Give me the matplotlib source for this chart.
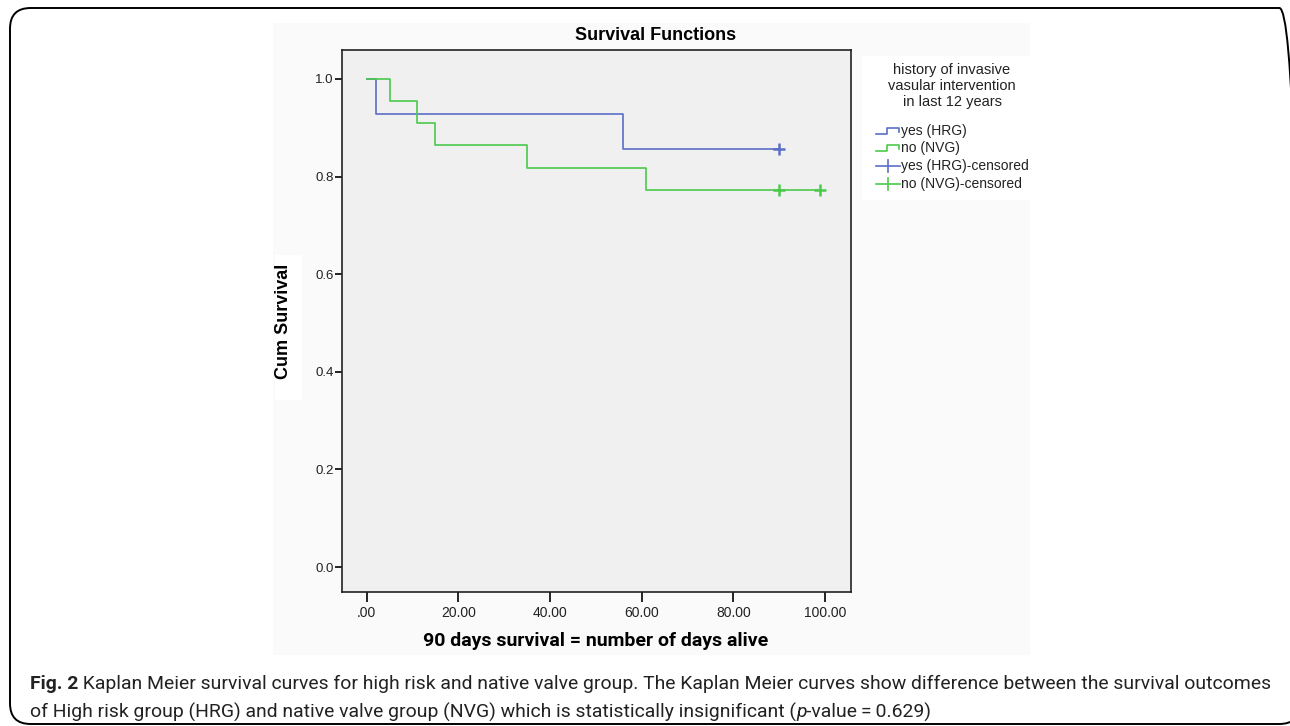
import matplotlib
matplotlib.use("Agg")
import matplotlib.pyplot as plt
from matplotlib.lines import Line2D
from matplotlib.patches import FancyBboxPatch, Rectangle

W, H = 1290, 726

# Kaplan-Meier steps
hrg_days = [0, 2, 56, 90]
hrg_surv = [1.0, 0.929, 0.857, 0.857]
hrg_cens_days = [90]
hrg_cens_surv = [0.857]

nvg_days = [0, 5, 11, 15, 35, 61, 99]
nvg_surv = [1.0, 0.955, 0.909, 0.864, 0.818, 0.773, 0.773]
nvg_cens_days = [90, 99]
nvg_cens_surv = [0.773, 0.773]

xticks = [0, 20, 40, 60, 80, 100]
xtick_labels = [".00", "20.00", "40.00", "60.00", "80.00", "100.00"]
yticks = [0.0, 0.2, 0.4, 0.6, 0.8, 1.0]
ytick_labels = ["0.0", "0.2", "0.4", "0.6", "0.8", "1.0"]

title = "Survival Functions"
xlabel = "90 days survival = number of days alive"
ylabel = "Cum Survival"
legend_title = ["history of invasive", "vasular intervention", "in last 12 years"]
legend_labels = ["yes (HRG)", "no (NVG)", "yes (HRG)-censored", "no (NVG)-censored"]

caption1 = [("Fig. 2", "bold", "normal"),
            (" Kaplan Meier survival curves for high risk and native valve group. The Kaplan Meier "
             "curves show difference between the survival outcomes", "normal", "normal")]
caption2 = [("of High risk group (HRG) and native valve group (NVG) which is statistically "
             "insignificant (", "normal", "normal"),
            ("p", "normal", "italic"),
            ("-value\u2009=\u20090.629)", "normal", "normal")]

blue = "#5a6fc6"
green = "#4cc94c"


def fx(x):
	return x / W


def fy(y):
	return 1 - y / H


fig = plt.figure(figsize=(W / 100, H / 100), dpi=100)
fig.patch.set_facecolor("white")

# page frame and the pasted chart image (kept behind the axes)
fig.add_artist(FancyBboxPatch((fx(10), fy(724)), fx(1300) - fx(10), fy(8) - fy(724),
                              boxstyle="round,pad=0,rounding_size=0.016",
                              transform=fig.transFigure, fc="none", ec="black", lw=1.4,
                              mutation_aspect=W / H, zorder=-1))
fig.add_artist(Rectangle((fx(273), fy(655)), fx(1030) - fx(273), fy(23) - fy(655),
                         transform=fig.transFigure, fc="#fafafa", ec="none", zorder=-2))
fig.add_artist(Rectangle((fx(862), fy(200)), fx(1030) - fx(862), fy(56) - fy(200),
                         transform=fig.transFigure, fc="white", ec="none", zorder=-1))
fig.add_artist(Rectangle((fx(275), fy(400)), fx(302) - fx(275), fy(255) - fy(400),
                         transform=fig.transFigure, fc="white", ec="none", zorder=-1))

ax = fig.add_axes([fx(342), fy(592), fx(850.7) - fx(342), fy(50) - fy(592)])
ax.set_facecolor("#f0f0f0")
for sp in ax.spines.values():
	sp.set_linewidth(1.2)
	sp.set_color("#222222")

ax.step(hrg_days, hrg_surv, where="post", color=blue, lw=1.2)
ax.step(nvg_days, nvg_surv, where="post", color=green, lw=1.2)
ax.plot(hrg_cens_days, hrg_cens_surv, ls="none", marker="+", ms=9, mew=1.8, color=blue)
ax.plot(nvg_cens_days, nvg_cens_surv, ls="none", marker="+", ms=9, mew=1.8, color=green)

ax.set_xlim(-5.4, 105.6)
ax.set_ylim(-0.0512, 1.0594)
ax.set_xticks(xticks)
ax.set_xticklabels(xtick_labels, fontsize=10, family="Liberation Sans", color="#222222")
ax.set_yticks(yticks)
ax.set_yticklabels(ytick_labels, fontsize=9.5, family="Liberation Sans", color="#222222")
ax.tick_params(axis="x", direction="out", length=7, width=1.2, pad=3)
ax.tick_params(axis="y", direction="out", length=5, width=1.2, pad=1)

fig.text(fx(656), fy(35), title, ha="center", va="center", fontsize=13,
         fontweight="bold", family="Liberation Sans")
fig.text(fx(284), fy(321), ylabel, ha="center", va="center", rotation=90, fontsize=13,
         fontweight="bold", family="Liberation Sans")

renderer = fig.canvas.get_renderer()


def fit_size(s, family, weight, width, base=12):
	t = fig.text(0, 0, s, fontsize=base, family=family, fontweight=weight)
	w = t.get_window_extent(renderer).width
	t.remove()
	return base * width / w


xl_size = fit_size(xlabel, "Roboto", "bold", 344)
fig.text(fx(596), fy(641), xlabel, ha="center", va="center", fontsize=xl_size,
         fontweight="bold", family="Roboto")

# legend
for i, line in enumerate(legend_title):
	fig.text(fx(952), fy(70 + 16 * i), line, ha="center", va="center", fontsize=10.5,
	         family="Liberation Sans", color="#222222")

rows = [131, 148, 166, 184]
for i, (lab, col) in enumerate(zip(legend_labels, [blue, green, blue, green])):
	y = rows[i]
	if i < 2:
		xs = [876, 887, 887, 899, 899]
		ys = [y + 3, y + 3, y - 3, y - 3, y + 1]
		fig.add_artist(Line2D([fx(v) for v in xs], [fy(v) for v in ys],
		                      transform=fig.transFigure, color=col, lw=1.2))
	else:
		fig.add_artist(Line2D([fx(876), fx(900)], [fy(y), fy(y)],
		                      transform=fig.transFigure, color=col, lw=1.2))
		fig.add_artist(Line2D([fx(888), fx(888)], [fy(y - 6), fy(y + 6)],
		                      transform=fig.transFigure, color=col, lw=1.2))
	fig.text(fx(901), fy(y), lab, ha="left", va="center", fontsize=10,
	         family="Liberation Sans", color="#222222")

# caption
cap_family = "Roboto"
full1 = "".join(r[0] for r in caption1)
cap_size = fit_size(full1, cap_family, "normal", 1240)


def put_runs(runs, x, y):
	for s, weight, style in runs:
		t = fig.text(fx(x), fy(y), s, ha="left", va="center", fontsize=cap_size,
		             family=cap_family, fontweight=weight, fontstyle=style, color="#222222")
		x += t.get_window_extent(renderer).width


put_runs(caption1, 30, 684)
put_runs(caption2, 30, 712)

fig.savefig("out.png", dpi=100)
